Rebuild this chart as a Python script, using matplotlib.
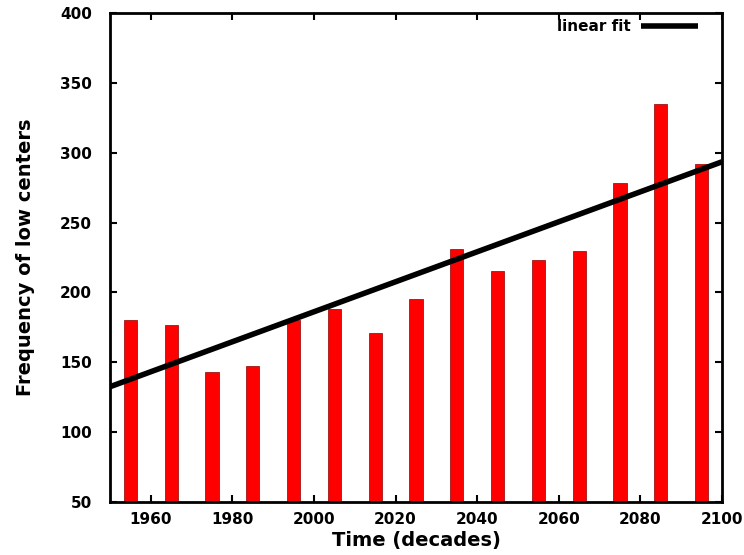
import matplotlib
matplotlib.use("Agg")
import matplotlib.pyplot as plt
import numpy as np

years = [1955, 1965, 1975, 1985, 1995, 2005, 2015, 2025, 2035, 2045, 2055, 2065, 2075, 2085, 2095]
counts = [180, 177, 143, 147, 180, 188, 171, 195, 231, 215, 223, 230, 278, 335, 292]
fit_x = [1950, 2100]
fit_y = [132.5, 293.5]
xticks = [1960, 1980, 2000, 2020, 2040, 2060, 2080, 2100]
yticks = [50, 100, 150, 200, 250, 300, 350, 400]

plt.rcParams['font.family'] = ['DejaVu Sans']
plt.rcParams['font.weight'] = 'bold'

fig = plt.figure(figsize=(7.44, 5.55), dpi=100)
ax = fig.add_axes([110/744, 1 - 502/555, 612/744, 489/555])

ax.bar(years, [c - 50 for c in counts], bottom=50, width=3.2, color='#ff0000', edgecolor='#8b0000', linewidth=0.5, zorder=2)
ax.plot(fit_x, fit_y, color='black', linewidth=4, label='linear fit', zorder=3, solid_capstyle='butt')

ax.set_xlim(1950, 2100)
ax.set_ylim(50, 400)
ax.set_xticks(xticks)
ax.set_yticks(yticks)
ax.tick_params(direction='in', length=5, width=1.5, top=True, right=True, labelsize=11)
ax.tick_params(axis='x', pad=7)
ax.tick_params(axis='y', pad=13)
for lab in ax.get_xticklabels() + ax.get_yticklabels():
    lab.set_fontweight('bold')
for s in ax.spines.values():
    s.set_linewidth(2)

ax.set_xlabel('Time (decades)', fontsize=14, fontweight='bold', labelpad=3)
ax.set_ylabel('Frequency of low centers', fontsize=14, fontweight='bold', labelpad=18)

leg = ax.legend(loc='upper right', frameon=False, markerfirst=False, handlelength=3.7,
                handletextpad=0.7, prop={'weight': 'bold', 'size': 11}, borderaxespad=0.0,
                bbox_to_anchor=(0.9706, 1.0))

fig.savefig('out.png', dpi=100)
